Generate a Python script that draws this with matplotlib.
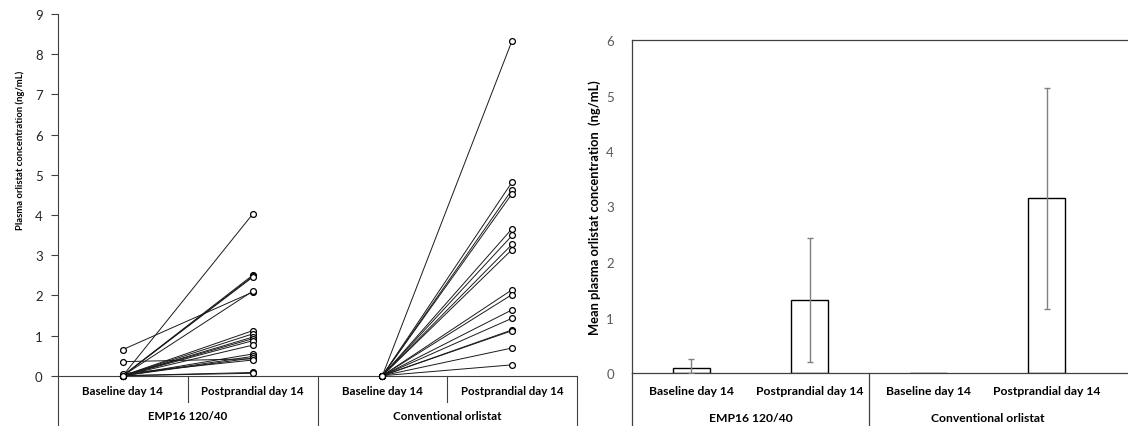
import matplotlib
matplotlib.use("Agg")
import matplotlib.pyplot as plt

plt.rcParams['font.family'] = ['Lato', 'DejaVu Sans']

# category / group labels
cats = ['Baseline day 14', 'Postprandial day 14', 'Baseline day 14', 'Postprandial day 14']
groups = ['EMP16 120/40', 'Conventional orlistat']

# individual subjects, EMP16 120/40 (baseline, postprandial)
emp_base = [0, 0, 0, 0, 0.65, 0, 0, 0, 0, 0, 0, 0, 0.35, 0, 0, 0, 0.05, 0, 0]
emp_post = [4.02, 2.50, 2.47, 2.45, 2.08, 2.10, 1.12, 1.04, 0.96, 0.92, 0.87, 0.76,
            0.42, 0.54, 0.48, 0.44, 0.39, 0.08, 0.06]

# individual subjects, conventional orlistat
conv_base = [0] * 16
conv_post = [8.34, 4.82, 4.63, 4.53, 3.66, 3.49, 3.27, 3.14, 2.14, 2.02, 1.64, 1.43,
             1.14, 1.12, 0.69, 0.27]

# means and error bars (lower / upper)
means = [0.09, 1.31, 0.0, 3.15]
err_lo = [0.09, 1.12, 0.0, 2.00]
err_hi = [0.17, 1.12, 0.0, 1.98]

W, H = 1128, 427
fig = plt.figure(figsize=(W / 100, H / 100), dpi=100)

# ---------------- left panel: paired lines ----------------
ax1 = fig.add_axes([58 / W, 50.3 / H, 519 / W, 361.7 / H])
for b, p in zip(emp_base, emp_post):
    ax1.plot([0, 1], [b, p], color='#1a1a1a', lw=0.7, marker='o', ms=4.2,
             mfc='white', mec='black', mew=0.9, clip_on=False, zorder=3)
for b, p in zip(conv_base, conv_post):
    ax1.plot([2, 3], [b, p], color='#1a1a1a', lw=0.7, marker='o', ms=4.2,
             mfc='white', mec='black', mew=0.9, clip_on=False, zorder=3)

ax1.set_xlim(-0.5, 3.5)
ax1.set_ylim(0, 9)
ax1.set_yticks(range(0, 10))
ax1.set_xticks([])
for s in ['top', 'right']:
    ax1.spines[s].set_visible(False)
ax1.spines['left'].set_color('#404040')
ax1.spines['bottom'].set_color('#404040')
ax1.tick_params(axis='y', direction='out', length=5, width=0.8, color='#404040',
                labelsize=9.5, labelcolor='#262626', pad=6)
ax1.set_ylabel('Plasma orlistat concentration (ng/mL)', fontsize=6.8,
               fontweight='bold', labelpad=7)
ax1.yaxis.set_label_coords(-0.064, 0.627)

h1 = 361.7
tr1 = ax1.get_xaxis_transform()
for x in [-0.5, 1.5, 3.5]:
    ax1.plot([x, x], [0, -51 / h1], transform=tr1, color='#404040', lw=0.8, clip_on=False)
for x in [0.5, 2.5]:
    ax1.plot([x, x], [0, -26 / h1], transform=tr1, color='#404040', lw=0.8, clip_on=False)
for i, c in enumerate(cats):
    ax1.text(i, -15 / h1, c, transform=tr1, ha='center', va='center',
             fontsize=8.3, fontweight='bold')
for i, g in enumerate(groups):
    ax1.text(0.5 + 2 * i, -40 / h1, g, transform=tr1, ha='center', va='center',
             fontsize=8.3, fontweight='bold')

# ---------------- right panel: mean bars ----------------
ax2 = fig.add_axes([632 / W, 53 / H, 496 / W, 333 / H])
xs = [0, 1, 2, 3]
ax2.bar(xs, means, width=0.31, color='white', edgecolor='black', linewidth=1.0, zorder=2)
for x, m, lo, hi in zip(xs, means, err_lo, err_hi):
    if m == 0:
        continue
    ax2.errorbar(x, m, yerr=[[lo], [hi]], fmt='none', ecolor='#808080',
                 elinewidth=1.0, capsize=2.5, capthick=1.0, zorder=3)

ax2.set_xlim(-0.5, 3.5 + 22 / 118.5)
ax2.set_ylim(0, 6)
ax2.set_yticks(range(0, 7))
ax2.set_xticks([])
ax2.spines['right'].set_visible(False)
for s in ['top', 'left', 'bottom']:
    ax2.spines[s].set_color('#404040')
    ax2.spines[s].set_linewidth(0.9)
ax2.tick_params(axis='y', length=0, labelsize=9.5, labelcolor='#595959', pad=13)
ax2.set_ylabel('Mean plasma orlistat concentration  (ng/mL)', fontsize=9.3,
               fontweight='bold', labelpad=4)

h2 = 333
tr2 = ax2.get_xaxis_transform()
for x in [-0.5, 1.5]:
    ax2.plot([x, x], [0, -54 / h2], transform=tr2, color='#404040', lw=0.9, clip_on=False)
for i, c in enumerate(cats):
    ax2.text(i, -18 / h2, c, transform=tr2, ha='center', va='center',
             fontsize=8.7, fontweight='bold')
for i, g in enumerate(groups):
    ax2.text(0.5 + 2 * i, -45 / h2, g, transform=tr2, ha='center', va='center',
             fontsize=8.7, fontweight='bold')

fig.savefig('out.png', dpi=100)
